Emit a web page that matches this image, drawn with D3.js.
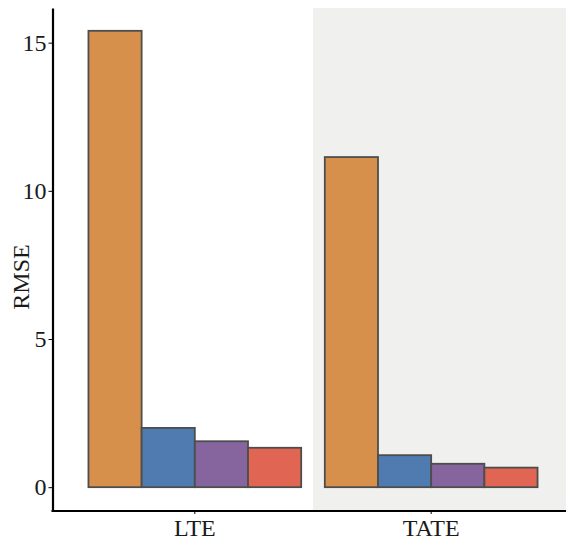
<!DOCTYPE html>
<html>
<head>
<meta charset="utf-8">
<script src="https://cdn.jsdelivr.net/npm/d3@7"></script>
<style>
  body { margin: 0; background: #fff; }
  svg { display: block; }
</style>
</head>
<body>
<div id="chart"></div>
<script>
// data
const groups = ["LTE", "TATE"];
const methods = ["A", "B", "C", "D"];
const lteValues = [15.4, 2.0, 1.55, 1.33];
const tateValues = [11.14, 1.08, 0.79, 0.66];
const yTicks = [0, 5, 10, 15];

const colors = ["#d6904b", "#4f7bb0", "#86649e", "#e06653"];

const width = 566, height = 542;
const margin = { top: 8, right: -7, bottom: 32, left: 53 };

const rows = [];
groups.forEach((g, gi) => {
  const vals = gi === 0 ? lteValues : tateValues;
  methods.forEach((m, mi) => rows.push({ group: g, method: m, value: vals[mi] }));
});

const svg = d3.select("#chart").append("svg")
  .attr("width", width)
  .attr("height", height);

const maxV = d3.max(rows, d => d.value);
const yScale = d3.scaleLinear()
  .domain([-maxV * 0.05, maxV * 1.05])
  .range([height - margin.bottom, margin.top]);

const x0 = d3.scaleBand()
  .domain(groups)
  .range([margin.left, width - margin.right])
  .paddingInner(0)
  .paddingOuter(0.1);

const x1 = d3.scaleBand()
  .domain(methods)
  .range([0, x0.bandwidth()])
  .paddingInner(0)
  .paddingOuter(0.222);

const colorScale = d3.scaleOrdinal().domain(methods).range(colors);

// shaded panel behind the second group
svg.append("rect")
  .attr("x", x0("TATE"))
  .attr("y", margin.top)
  .attr("width", width - x0("TATE"))
  .attr("height", height - margin.bottom - margin.top)
  .attr("fill", "#f0f0ef");

svg.append("g")
  .selectAll("rect")
  .data(rows)
  .enter()
  .append("rect")
  .attr("x", d => x0(d.group) + x1(d.method))
  .attr("y", d => yScale(d.value))
  .attr("width", x1.bandwidth())
  .attr("height", d => yScale(0) - yScale(d.value))
  .attr("fill", d => colorScale(d.method))
  .attr("stroke", "#4d4d4d")
  .attr("stroke-width", 1.8);

const fontFam = "Liberation Serif";

const yAxis = svg.append("g")
  .attr("transform", `translate(${margin.left - 0.5},0)`)
  .call(d3.axisLeft(yScale).tickValues(yTicks).tickSize(4).tickSizeOuter(0).tickPadding(2));

const xAxis = svg.append("g")
  .attr("transform", `translate(0,${height - margin.bottom + 1})`)
  .call(d3.axisBottom(x0).tickSize(3).tickSizeOuter(0).tickPadding(5));

[yAxis, xAxis].forEach(ax => {
  ax.attr("font-family", fontFam).attr("font-size", 24);
  ax.select(".domain").attr("stroke", "#000").attr("stroke-width", 2.2);
  ax.selectAll(".tick line").attr("stroke", "#000").attr("stroke-width", 1);
  ax.selectAll("text").attr("fill", "#1a1a1a");
});

xAxis.select(".domain")
  .attr("d", `M${margin.left - 1.5},0H${width}`);

svg.append("text")
  .attr("transform", `translate(29,${(margin.top + height - margin.bottom) / 2 + 18}) rotate(-90)`)
  .attr("text-anchor", "middle")
  .attr("font-family", fontFam)
  .attr("font-size", 24)
  .attr("fill", "#1a1a1a")
  .text("RMSE");
</script>
</body>
</html>
